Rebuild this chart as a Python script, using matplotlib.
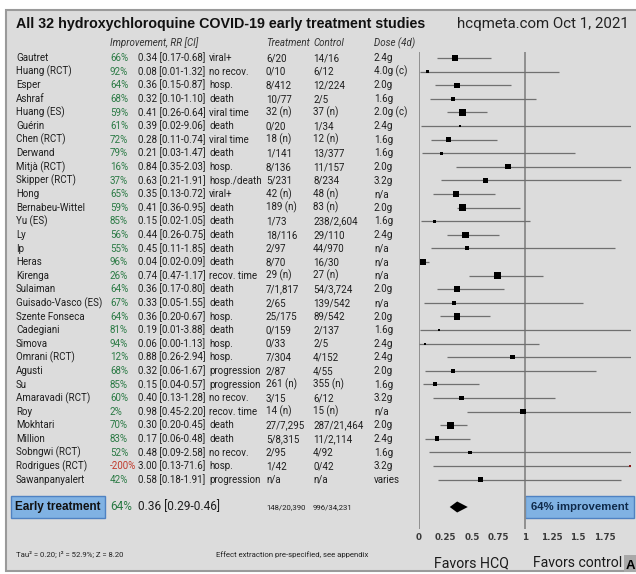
import numpy as np
import matplotlib.pyplot as plt
from matplotlib.patches import Rectangle

studies = ['Gautret', 'Huang (RCT)', 'Esper', 'Ashraf', 'Huang (ES)', 'Guérin', 'Chen (RCT)',
           'Derwand', 'Mitjà (RCT)', 'Skipper (RCT)', 'Hong', 'Bernabeu-Wittel', 'Yu (ES)', 'Ly',
           'Ip', 'Heras', 'Kirenga', 'Sulaiman', 'Guisado-Vasco (ES)', 'Szente Fonseca',
           'Cadegiani', 'Simova', 'Omrani (RCT)', 'Agusti', 'Su', 'Amaravadi (RCT)', 'Roy',
           'Mokhtari', 'Million', 'Sobngwi (RCT)', 'Rodrigues (RCT)', 'Sawanpanyalert']
improvement = [66, 92, 64, 68, 59, 61, 72, 79, 16, 37, 65, 59, 85, 56, 55, 96, 26, 64, 67, 64,
               81, 94, 12, 68, 85, 60, 2, 70, 83, 52, -200, 42]
rr = [0.34, 0.08, 0.36, 0.32, 0.41, 0.39, 0.28, 0.21, 0.84, 0.63, 0.35, 0.41, 0.15, 0.44, 0.45,
      0.04, 0.74, 0.36, 0.33, 0.36, 0.19, 0.06, 0.88, 0.32, 0.15, 0.40, 0.98, 0.30, 0.17, 0.48,
      3.00, 0.58]
ci_lo = [0.17, 0.01, 0.15, 0.10, 0.26, 0.02, 0.11, 0.03, 0.35, 0.21, 0.13, 0.36, 0.02, 0.26, 0.11,
         0.02, 0.47, 0.17, 0.05, 0.20, 0.01, 0.00, 0.26, 0.06, 0.04, 0.13, 0.45, 0.20, 0.06, 0.09,
         0.13, 0.18]
ci_hi = [0.68, 1.32, 0.87, 1.10, 0.64, 9.06, 0.74, 1.47, 2.03, 1.91, 0.72, 0.95, 1.05, 0.75, 1.85,
         0.09, 1.17, 0.80, 1.55, 0.67, 3.88, 1.13, 2.94, 1.67, 0.57, 1.28, 2.20, 0.45, 0.48, 2.58,
         71.6, 1.91]
outcome = ['viral+', 'no recov.', 'hosp.', 'death', 'viral time', 'death', 'viral time', 'death',
           'hosp.', 'hosp./death', 'viral+', 'death', 'death', 'death', 'death', 'death',
           'recov. time', 'death', 'death', 'hosp.', 'death', 'hosp.', 'hosp.', 'progression',
           'progression', 'no recov.', 'recov. time', 'death', 'death', 'no recov.', 'hosp.',
           'progression']
treatment = ['6/20', '0/10', '8/412', '10/77', '32 (n)', '0/20', '18 (n)', '1/141', '8/136', '5/231',
             '42 (n)', '189 (n)', '1/73', '18/116', '2/97', '8/70', '29 (n)', '7/1,817', '2/65',
             '25/175', '0/159', '0/33', '7/304', '2/87', '261 (n)', '3/15', '14 (n)', '27/7,295',
             '5/8,315', '2/95', '1/42', 'n/a']
control = ['14/16', '6/12', '12/224', '2/5', '37 (n)', '1/34', '12 (n)', '13/377', '11/157', '8/234',
           '48 (n)', '83 (n)', '238/2,604', '29/110', '44/970', '16/30', '27 (n)', '54/3,724',
           '139/542', '89/542', '2/137', '2/5', '4/152', '4/55', '355 (n)', '6/12', '15 (n)',
           '287/21,464', '11/2,114', '4/92', '0/42', 'n/a']
dose = ['2.4g', '4.0g (c)', '2.0g', '1.6g', '2.0g (c)', '2.4g', '1.6g', '1.6g', '2.0g', '3.2g', 'n/a',
        '2.0g', '1.6g', '2.4g', 'n/a', 'n/a', 'n/a', '2.0g', 'n/a', '2.0g', '1.6g', '2.4g', '2.4g',
        '2.0g', '1.6g', '3.2g', 'n/a', '2.0g', '2.4g', '1.6g', '3.2g', 'varies']

summary_imp = 64
summary_rr, summary_lo, summary_hi = 0.36, 0.29, 0.46
summary_treat = '148/20,390'
summary_ctrl = '996/34,231'
tau2 = 0.20
i2 = 52.9
z = 8.20

ticks = [0, 0.25, 0.5, 0.75, 1, 1.25, 1.5, 1.75]
tick_labels = ['0', '0.25', '0.5', '0.75', '1', '1.25', '1.5', '1.75']

W, H = 636, 574
fig = plt.figure(figsize=(W / 100, H / 100), dpi=100, facecolor='white')

# overlay in pixel coords for the table part
bg = fig.add_axes([0, 0, 1, 1])
bg.set_xlim(0, W)
bg.set_ylim(H, 0)
bg.axis('off')
bg.add_patch(Rectangle((6, 10), 640, 561, facecolor='#dcdcdc', edgecolor='#9a9a9a', lw=1.5))

green = '#2a7a44'
red = '#c0392b'
txt = '#1e1e1e'
row0, step = 58, 13.6
ys = [row0 + step * i for i in range(len(studies))]
sum_y = 507


def fmt(v):
    return f'{v:.1f}' if v >= 10 else f'{v:.2f}'


rf = dict(family='Roboto', fontsize=7, color=txt, va='baseline')

bg.text(16, 28, 'All 32 hydroxychloroquine COVID-19 early treatment studies',
        family='Liberation Sans', fontsize=10.3, fontweight='bold', color='#111111', va='baseline')
bg.text(629, 28, 'hcqmeta.com Oct 1, 2021', family='Roboto', fontsize=10.8, color='#222222',
        va='baseline', ha='right')

hf = dict(family='Roboto', fontsize=7, style='italic', color='#333333', va='baseline')
bg.text(110, 46, 'Improvement, RR [CI]', **hf)
bg.text(266, 46, 'Treatment', **hf)
bg.text(313, 46, 'Control', **hf)
bg.text(374, 46, 'Dose (4d)', **hf)

for i, y in enumerate(ys):
    b = y + 3.3
    bg.text(16, b, studies[i], **rf)
    col = red if improvement[i] < 0 else green
    bg.text(110, b, f'{improvement[i]}%', family='Roboto', fontsize=7, color=col, va='baseline')
    bg.text(138, b, f'{fmt(rr[i])} [{fmt(ci_lo[i])}-{fmt(ci_hi[i])}]', **rf)
    bg.text(209, b, outcome[i], **rf)
    bg.text(266, b, treatment[i], **rf)
    bg.text(313, b, control[i], **rf)
    bg.text(374, b, dose[i], **rf)

# summary row
bg.add_patch(Rectangle((11, 496), 94, 21.5, facecolor='#80b2e3', edgecolor='#4f82c2', lw=1))
bg.text(58, sum_y, 'Early treatment', family='Liberation Sans', fontsize=8.5, fontweight='bold',
        color='#111111', ha='center', va='center')
bg.text(110, sum_y + 3.5, f'{summary_imp}%', family='Roboto', fontsize=8.6, color=green, va='baseline')
bg.text(138, sum_y + 3.5, f'{summary_rr:.2f} [{summary_lo:.2f}-{summary_hi:.2f}]', family='Roboto',
        fontsize=8.6, color=txt, va='baseline')
bg.text(266, sum_y + 2.5, summary_treat, family='Roboto', fontsize=5.6, color=txt, va='baseline')
bg.text(313, sum_y + 2.5, summary_ctrl, family='Roboto', fontsize=5.6, color=txt, va='baseline')

bg.add_patch(Rectangle((525, 496), 109, 21.5, facecolor='#80b2e3', edgecolor='#4f82c2', lw=1))
bg.text(579.5, sum_y, f'{summary_imp}% improvement', family='Liberation Sans', fontsize=8.2,
        fontweight='bold', color='#0f2a4a', ha='center', va='center')

ff = dict(family='Roboto', fontsize=5.6, color='#222222', va='baseline')
bg.text(16, 557, f'Tau\u00b2 = {tau2:.2f}; I\u00b2 = {i2}%; Z = {z:.2f}', **ff)
bg.text(216, 557, 'Effect extraction pre-specified, see appendix', **ff)

bg.text(471.5, 567, 'Favors HCQ', family='Roboto', fontsize=10.2, color='#1a1a1a',
        ha='center', va='baseline')
bg.text(533, 567, 'Favors control', family='Roboto', fontsize=10.1, color='#1a1a1a', va='baseline')
bg.add_patch(Rectangle((624, 555), 14, 17, facecolor='#a9a9a9', edgecolor='none'))
bg.text(630, 566, 'A', family='Liberation Sans', fontsize=9.5, fontweight='bold', color='black',
        ha='center', va='center')

# forest plot
x0, x2 = 419, 631
top, bot = 52, 529
ax = fig.add_axes([x0 / W, 1 - bot / H, (x2 - x0) / W, (bot - top) / H])
ax.patch.set_alpha(0)
ax.set_xlim(0, 2)
ax.set_ylim(bot, top)
for s in ax.spines.values():
    s.set_visible(False)
ax.axvline(0, color='#8a8a8a', lw=1.3)
ax.axvline(1, color='#8a8a8a', lw=1.3)

lo = np.array(ci_lo)
hi = np.array(ci_hi)
est = np.array(rr)
se = (np.log(hi) - np.log(np.maximum(lo, 0.003))) / (2 * 1.96)
w = 1 / (se ** 2 + tau2)

ax.hlines(ys, lo, hi, color='#707070', lw=0.9)
in_range = est <= 2
ax.scatter(est[in_range], np.array(ys)[in_range], s=6 * w[in_range], marker='s', color='black',
           linewidths=0, zorder=3)
ax.scatter(np.minimum(est[~in_range], 1.995), np.array(ys)[~in_range], s=6 * w[~in_range],
           marker='s', color='#8b1a1a', linewidths=0, zorder=3, clip_on=False)

ax.fill([summary_lo, summary_rr, summary_hi, summary_rr],
        [sum_y, sum_y - 5.5, sum_y, sum_y + 5.5], color='black', lw=0)

ax.set_yticks([])
ax.set_xticks(ticks, tick_labels)
ax.tick_params(axis='x', length=0, pad=2.8, labelsize=6.3, labelcolor='#3a3a3a')
for t in ax.get_xticklabels():
    t.set_fontweight('bold')
    t.set_family('DejaVu Sans')

fig.savefig('out.png', dpi=100, facecolor='white')
